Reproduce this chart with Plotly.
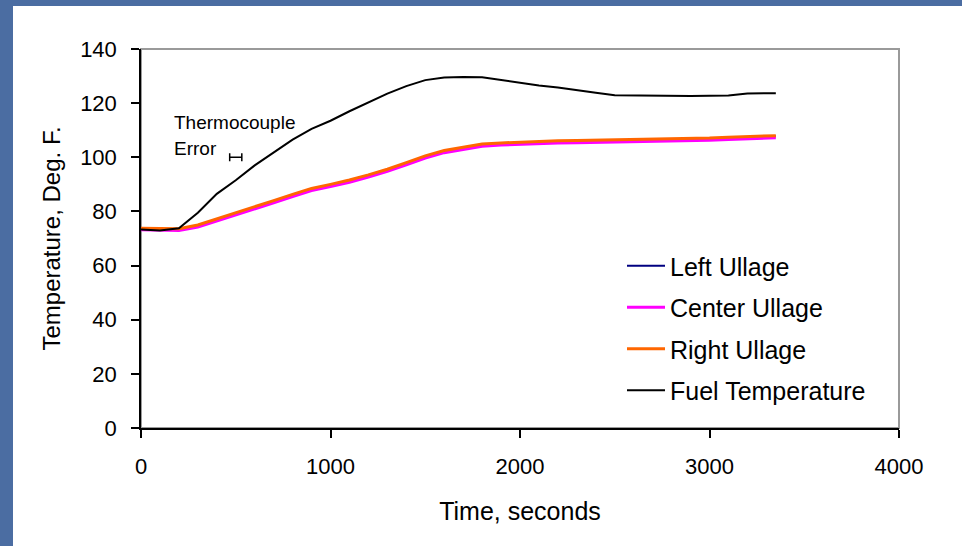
import plotly.graph_objects as go

# ---- data ----
time_s = [0, 100, 200, 300, 400, 500, 600, 700, 800, 900, 1000, 1100, 1200, 1300,
          1400, 1500, 1600, 1700, 1800, 1900, 2000, 2100, 2200, 2300, 2400, 2500,
          2600, 2700, 2800, 2900, 3000, 3100, 3200, 3300, 3350]

fuel_temp = [73.3, 73.0, 73.8, 79.5, 86.5, 91.5, 97.0, 101.8, 106.5, 110.5, 113.5,
             117.0, 120.2, 123.5, 126.3, 128.5, 129.5, 129.7, 129.6, 128.6, 127.4,
             126.5, 125.8, 124.7, 123.8, 122.9, 122.8, 122.6, 122.7, 122.6, 122.7,
             122.8, 123.6, 123.7, 123.7]

right_ullage = [73.8, 73.6, 73.6, 75.0, 77.2, 79.5, 81.8, 84.0, 86.3, 88.5, 90.0,
                91.6, 93.5, 95.6, 98.0, 100.5, 102.5, 103.8, 104.9, 105.3, 105.6,
                105.9, 106.1, 106.2, 106.3, 106.4, 106.5, 106.6, 106.8, 107.0, 107.1,
                107.4, 107.6, 107.8, 108.0]

left_ullage = [73.5, 73.3, 73.3, 74.6, 76.8, 79.1, 81.4, 83.6, 85.9, 88.1, 89.6,
               91.2, 93.1, 95.2, 97.6, 100.1, 102.1, 103.4, 104.5, 104.9, 105.2,
               105.5, 105.7, 105.8, 105.9, 106.0, 106.1, 106.2, 106.4, 106.6, 106.7,
               107.0, 107.2, 107.4, 107.8]

center_ullage = [73.2, 73.0, 73.0, 74.2, 76.4, 78.7, 81.0, 83.2, 85.5, 87.7, 89.2,
                 90.8, 92.7, 94.8, 97.2, 99.7, 101.7, 103.0, 104.1, 104.5, 104.8,
                 105.1, 105.3, 105.4, 105.5, 105.6, 105.7, 105.8, 106.0, 106.2, 106.3,
                 106.6, 106.8, 107.0, 107.2]

# thermocouple error marker
err_time = [500]
err_temp = [100]
err_half_width_s = [32]

x_ticks = [0, 1000, 2000, 3000, 4000]
y_ticks = [0, 20, 40, 60, 80, 100, 120, 140]

FONT = "Liberation Sans, Arial, sans-serif"

fig = go.Figure()
series = [
    ("Left Ullage", left_ullage, "#000080", 2),
    ("Center Ullage", center_ullage, "#ff00ff", 3),
    ("Right Ullage", right_ullage, "#ff6600", 3),
    ("Fuel Temperature", fuel_temp, "#000000", 2),
]
for name, vals, col, w in series:
    fig.add_trace(go.Scatter(x=time_s, y=vals, mode="lines", name=name,
                             legendgroup=name,
                             line=dict(color=col, width=w)))

fig.add_trace(go.Scatter(x=err_time, y=err_temp, mode="markers", showlegend=False,
                         legendgroup="err",
                         marker=dict(size=1, color="black", opacity=0),
                         error_x=dict(type="data", array=err_half_width_s, visible=True,
                                      color="black", thickness=1.5, width=4)))

L, R, T, B = 141, 63, 49, 118
W, H = 962, 546
pw, ph = W - L - R, H - T - B

def px(xp):
    return (xp - L) / pw

def py(yp):
    return (H - B - yp) / ph

shapes = [
    # white card on blue background
    dict(type="rect", xref="paper", yref="paper", x0=px(13), x1=px(962),
         y0=py(546), y1=py(6), fillcolor="white", line=dict(width=0), layer="below"),
    # grey plot frame (top/right)
    dict(type="rect", xref="paper", yref="paper", x0=0, x1=1, y0=0, y1=1,
         line=dict(color="#9a9a9a", width=2), fillcolor="rgba(0,0,0,0)", layer="below"),
]

fig.update_layout(
    width=W, height=H,
    margin=dict(l=L, r=R, t=T, b=B, pad=0),
    paper_bgcolor="#4b6da2",
    plot_bgcolor="white",
    shapes=shapes,
    font=dict(family=FONT, color="black"),
    showlegend=True,
    legend=dict(x=px(622), y=py(243), xanchor="left", yanchor="top",
                bgcolor="rgba(0,0,0,0)", font=dict(size=25, family=FONT),
                itemwidth=38, tracegroupgap=6, traceorder="grouped"),
    annotations=[
        dict(x=px(172), y=py(123), xref="paper", yref="paper", text="Thermocouple",
             showarrow=False, xanchor="left", yanchor="middle",
             font=dict(size=19, family=FONT)),
        dict(x=px(172), y=py(148), xref="paper", yref="paper", text="Error",
             showarrow=False, xanchor="left", yanchor="middle",
             font=dict(size=19, family=FONT)),
    ],
)

fig.update_xaxes(range=[0, 4000], tickvals=x_ticks, ticks="outside", ticklen=8,
                 tickcolor="black", tickwidth=1.5, showline=True, linecolor="black",
                 linewidth=1.5, showgrid=False, zeroline=False,
                 tickfont=dict(size=22, family=FONT), ticklabelstandoff=10,
                 title=dict(text="Time, seconds", font=dict(size=25, family=FONT),
                            standoff=24))
fig.update_yaxes(range=[0, 140], tickvals=y_ticks, ticks="outside", ticklen=8,
                 tickcolor="black", tickwidth=1.5, showline=True, linecolor="black",
                 linewidth=1.5, showgrid=False, zeroline=False,
                 tickfont=dict(size=22, family=FONT), ticklabelstandoff=10,
                 title=dict(text="Temperature, Deg. F.", font=dict(size=24, family=FONT),
                            standoff=13))

fig.write_html("out.html",
               config={"displayModeBar": False},
               post_script="document.body.style.margin='0';"
                           "document.body.style.overflow='hidden';")
